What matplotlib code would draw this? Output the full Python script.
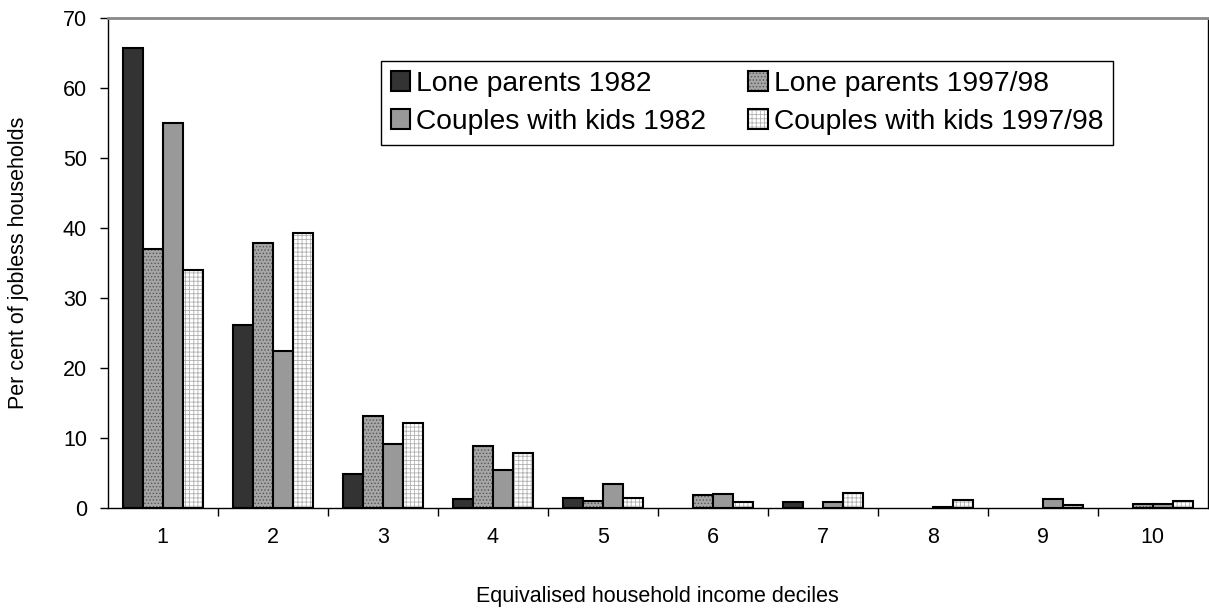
import numpy as np
import matplotlib
matplotlib.use('Agg')
import matplotlib.pyplot as plt

plt.rcParams['font.family'] = ['Liberation Sans', 'DejaVu Sans']
plt.rcParams['hatch.linewidth'] = 0.6

deciles = ['1', '2', '3', '4', '5', '6', '7', '8', '9', '10']
lone_1982 = [65.7, 26.2, 4.8, 1.3, 1.5, 0.0, 0.8, 0.0, 0.0, 0.0]
lone_1997 = [37.0, 37.8, 13.1, 8.8, 1.0, 1.8, 0.0, 0.0, 0.0, 0.6]
couples_1982 = [55.0, 22.5, 9.2, 5.4, 3.4, 2.0, 0.8, 0.2, 1.3, 0.6]
couples_1997 = [34.0, 39.3, 12.2, 7.9, 1.5, 0.8, 2.2, 1.1, 0.4, 1.0]

fig = plt.figure(figsize=(12.09, 6.12), dpi=100)
ax = fig.add_axes([0.0891, 0.1699, 0.9098, 0.8007])

x = np.arange(len(deciles))
w = 20 / 110
offs = np.array([-1.5, -0.5, 0.5, 1.5]) * w

# four series side by side in each decile
b1 = ax.bar(x + offs[0], lone_1982, w, color='#333333', edgecolor='black', lw=1.5)
b2 = ax.bar(x + offs[1], lone_1997, w, color='#a6a6a6', edgecolor='black', lw=1.5,
            hatch='.....')
b3 = ax.bar(x + offs[2], couples_1982, w, color='#999999', edgecolor='black', lw=1.5)
b4 = ax.bar(x + offs[3], couples_1997, w, color='white', edgecolor='black', lw=1.5,
            hatch='++++')
for b in b2:
    b._hatch_color = matplotlib.colors.to_rgba('#555555')
for b in b4:
    b._hatch_color = matplotlib.colors.to_rgba('#b0b0b0')
# empty cells get no bar at all
for bars in (b1, b2, b3, b4):
    for b in bars:
        if b.get_height() == 0:
            b.set_visible(False)

ax.set_xlim(-0.5, len(deciles) - 0.5)
ax.set_ylim(0, 70)
ax.set_yticks(range(0, 71, 10))
ax.tick_params(axis='y', direction='out', length=6, width=1, labelsize=15.5, pad=9)

# tick marks between deciles, labels at the centres
ax.set_xticks(np.arange(0.5, len(deciles) - 0.5, 1))
ax.set_xticklabels([])
ax.tick_params(axis='x', which='major', direction='out', length=6, width=1)
ax.set_xticks(x, minor=True)
ax.set_xticklabels(deciles, minor=True)
ax.tick_params(axis='x', which='minor', length=0, labelsize=15.5, pad=14)

ax.spines['top'].set_color('#888888')
ax.spines['top'].set_linewidth(2)
ax.spines['left'].set_linewidth(1)
ax.spines['bottom'].set_linewidth(1)
ax.spines['right'].set_linewidth(1)

ax.set_xlabel('Equivalised household income deciles', fontsize=15.5, labelpad=27)
ax.set_ylabel('Per cent of jobless households', fontsize=15.5, labelpad=24)

leg = fig.legend([b1, b3, b2, b4],
                 ['Lone parents 1982', 'Couples with kids 1982',
                  'Lone parents 1997/98', 'Couples with kids 1997/98'],
                 ncol=2, loc='upper left', bbox_to_anchor=(0.315, 0.900),
                 fontsize=20.3, fancybox=False, edgecolor='black', framealpha=1,
                 handlelength=0.7, handleheight=0.7, handletextpad=0.2,
                 columnspacing=1.5, labelspacing=0.42, borderpad=0.35,
                 borderaxespad=0)
leg.get_frame().set_linewidth(1)

fig.savefig('out.png', dpi=100)
